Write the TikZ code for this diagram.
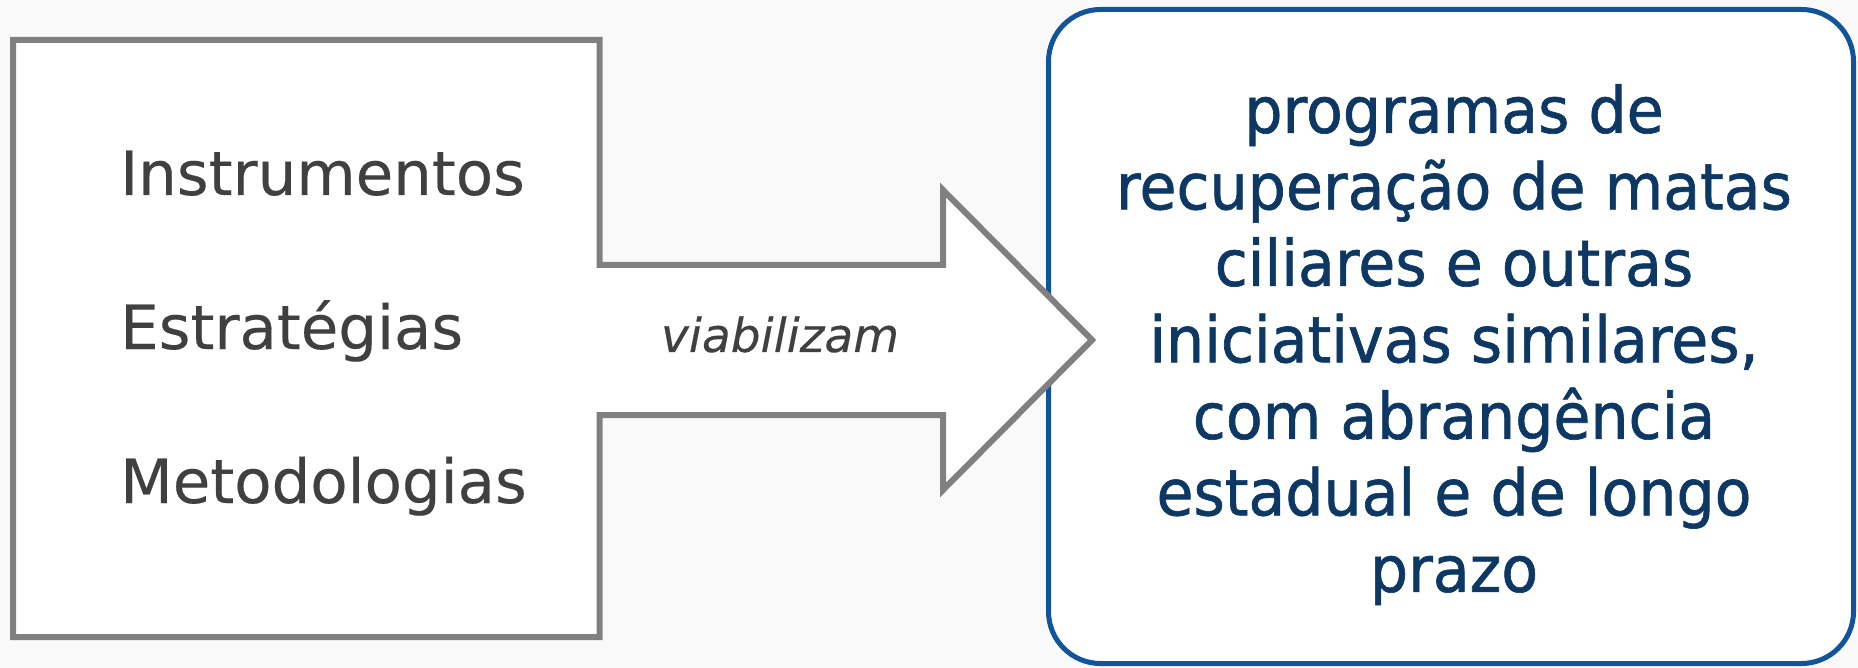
\documentclass[tikz,border=0pt]{standalone}
\usepackage{fontspec}
\setmainfont{DejaVu Sans}
\newfontfamily\leftfont[FakeBold=0.3]{DejaVu Sans}
\newfontfamily\rightfont[FakeStretch=0.94,FakeBold=1]{DejaVu Sans}
\definecolor{bordergray}{HTML}{808080}
\definecolor{textgray}{HTML}{404040}
\definecolor{boxblue}{HTML}{12549A}
\definecolor{textblue}{HTML}{0D3864}
\definecolor{bgcol}{HTML}{F9F9F9}
\begin{document}
\begin{tikzpicture}[x=1pt,y=-1pt,
  shapeline/.style={draw=bordergray,line width=6pt,fill=white,line join=miter,miter limit=10},
  targetbox/.style={draw=boxblue,line width=5pt,fill=white,rounded corners=52pt,
    rectangle,minimum width=805pt,minimum height=654pt,inner sep=0pt},
  lefttext/.style={text=textgray,font=\leftfont\fontsize{61}{72}\selectfont,inner sep=0pt,anchor=base west},
  verbtext/.style={text=textgray,font=\leftfont\fontsize{47}{56}\selectfont\itshape,inner sep=0pt,anchor=base},
  righttext/.style={text=textblue,font=\rightfont\fontsize{64}{76.5}\selectfont,align=center,inner sep=0pt,anchor=north}]
\useasboundingbox (0,0) rectangle (1858,668);
\fill[bgcol] (0,0) rectangle (1858,668);
% target box
\node[targetbox] (target) at (1451,336.5) {};
% box merged with arrow
\draw[shapeline] (13,40) -- (599.5,40) -- (599.5,265) -- (943,265) -- (943,190)
  -- (1092,340) -- (943,490) -- (943,415) -- (599.5,415) -- (599.5,637) -- (13,637) -- cycle;
\node[lefttext] (instr) at (120,195) {Instrumentos};
\node[lefttext] (estr) at (120,349) {Estratégias};
\node[lefttext] (metod) at (120,503) {Metodologias};
\node[verbtext] (verb) at (780,352) {viabilizam};
\node[righttext] (targettext) at (1454,84) {programas de\\recuperação de matas\\ciliares e outras\\iniciativas similares,\\com abrangência\\estadual e de longo\\prazo};
\end{tikzpicture}
\end{document}
